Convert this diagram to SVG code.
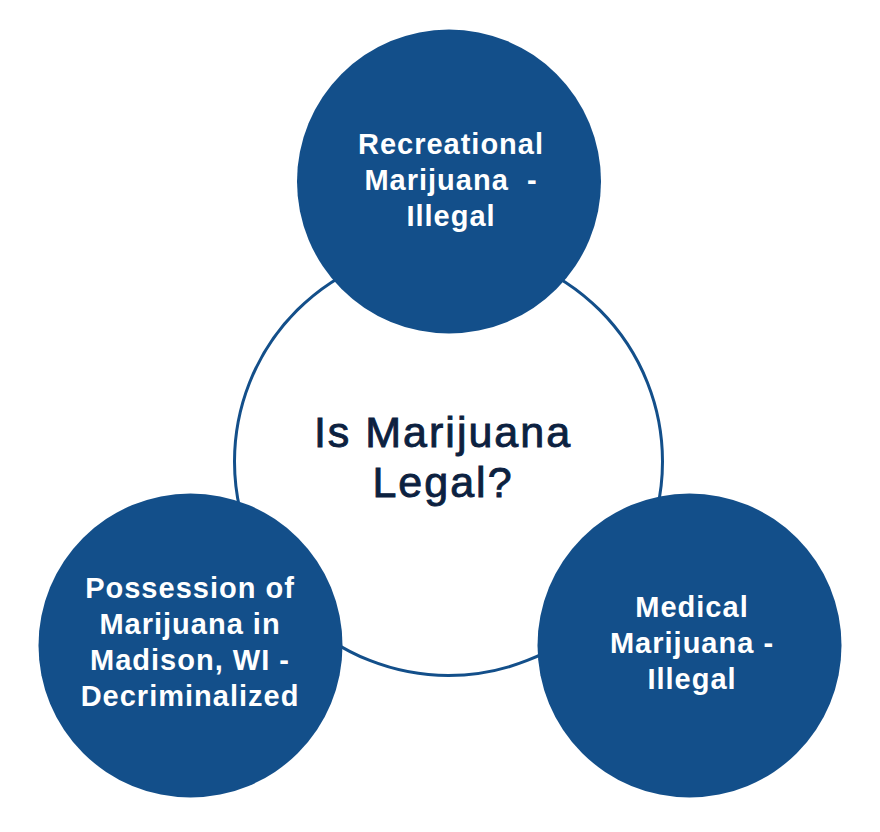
<svg xmlns="http://www.w3.org/2000/svg" width="880" height="832" viewBox="0 0 880 832">
<style>
.bg{fill:#ffffff}
.hub{fill:#ffffff;stroke:#134f8a;stroke-width:3}
.sat{fill:#134f8a}
.t{font-family:"Liberation Sans",Arial,sans-serif;font-weight:bold;font-size:29px;fill:#ffffff;text-anchor:middle;letter-spacing:1px}
.h{font-family:"Liberation Sans",Arial,sans-serif;font-size:43px;fill:#0c2140;stroke:#0c2140;stroke-width:0.9px;text-anchor:middle;letter-spacing:2px}
</style>
<rect class="bg" x="0" y="0" width="880" height="832"/>
<g id="center">
<circle class="hub" cx="448.5" cy="461.5" r="214"/>
<text class="h" x="443" y="447">Is Marijuana</text>
<text class="h" x="443" y="497">Legal?</text>
</g>
<g id="connectors"></g>
<g id="recreational">
<circle class="sat" cx="449" cy="181.5" r="152"/>
<text class="t" x="451" y="154">Recreational</text>
<text class="t" x="451" y="190" xml:space="preserve">Marijuana  -</text>
<text class="t" x="451" y="226">Illegal</text>
</g>
<g id="possession">
<circle class="sat" cx="190.5" cy="645.5" r="152"/>
<text class="t" x="190" y="598">Possession of</text>
<text class="t" x="190" y="634">Marijuana in</text>
<text class="t" x="190" y="670">Madison, WI -</text>
<text class="t" x="190" y="706">Decriminalized</text>
</g>
<g id="medical">
<circle class="sat" cx="689.5" cy="645.5" r="152"/>
<text class="t" x="692" y="617">Medical</text>
<text class="t" x="692" y="653">Marijuana -</text>
<text class="t" x="692" y="689">Illegal</text>
</g>
</svg>
